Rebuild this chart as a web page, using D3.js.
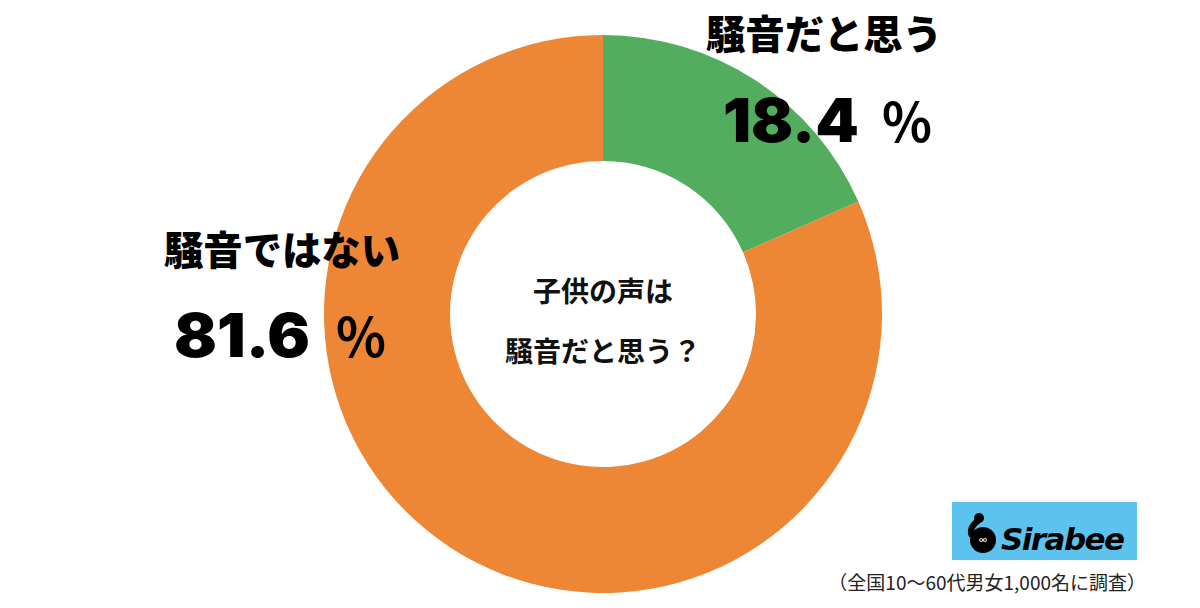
<!DOCTYPE html>
<html><head><meta charset="utf-8">
<script src="https://cdn.jsdelivr.net/npm/d3@7"></script>
<style>body{margin:0;background:#fff}svg{display:block}</style>
</head><body>
<script>
const categories = ["騒音だと思う", "騒音ではない"];
const values = [18.4, 81.6];
const colors = ["#52ad5e", "#ed8735"];
const valueLabels = ["18.4", "81.6"];
const centerTitle = ["子供の声は", "騒音だと思う？"];
const footnote = "（全国10〜60代男女1,000名に調査）";

const W = 1200, H = 608, cx = 603, cy = 314, R = 279, r = 153;
const svg = d3.select("body").append("svg").attr("width", W).attr("height", H);
const font = "'Noto Sans CJK JP', sans-serif";

const pie = d3.pie().sort(null).value(d => d)(values);
const arc = d3.arc().innerRadius(r).outerRadius(R);
svg.append("g").attr("transform", `translate(${cx},${cy})`)
  .selectAll("path").data(pie).join("path")
  .attr("d", arc).attr("fill", (d, i) => colors[i]);

// center title
svg.selectAll("text.center").data(centerTitle).join("text")
  .attr("class", "center")
  .attr("x", cx).attr("y", (d, i) => 302 + i * 60)
  .attr("text-anchor", "middle").attr("font-family", font)
  .attr("font-weight", 700).attr("font-size", 28).attr("fill", "#111")
  .text(d => d);

// labels
const labelPos = [
  {x: 824, y: 49, nx: 723, vy: 142, px: 882},
  {x: 282, y: 265, nx: 174, vy: 357, px: 336}
];
categories.forEach((c, i) => {
  const p = labelPos[i];
  svg.append("text").attr("x", p.x).attr("y", p.y)
    .attr("text-anchor", "middle").attr("font-family", font)
    .attr("font-weight", 900).attr("font-size", 40).attr("fill", "#000")
    .attr("textLength", 236).attr("lengthAdjust", "spacingAndGlyphs")
    .text(c);
  svg.append("text").attr("x", p.nx).attr("y", p.vy)
    .attr("font-family", "Inter, 'DejaVu Sans', sans-serif")
    .attr("font-weight", 900).attr("font-size", 61).attr("fill", "#000")
    .attr("textLength", 136).attr("lengthAdjust", "spacingAndGlyphs")
    .text(valueLabels[i]);
  svg.append("text").attr("x", p.px).attr("y", p.vy)
    .attr("font-family", font)
    .attr("font-weight", 700).attr("font-size", 54).attr("fill", "#000")
    .attr("textLength", 50).attr("lengthAdjust", "spacingAndGlyphs")
    .text("%");
});

// logo
const lg = svg.append("g");
lg.append("rect").attr("x", 952).attr("y", 502).attr("width", 185).attr("height", 58).attr("fill", "#5cc3ef");
lg.append("circle").attr("cx", 983).attr("cy", 540).attr("r", 13).attr("fill", "#000");
lg.append("circle").attr("cx", 979).attr("cy", 518).attr("r", 5).attr("fill", "#000");
lg.append("path").attr("d", "M979,520 Q968,528 972,536").attr("stroke", "#000").attr("stroke-width", 6).attr("fill", "none");
lg.append("text").attr("x", 983).attr("y", 543).attr("text-anchor", "middle")
  .attr("font-family", font).attr("font-size", 8).attr("font-weight", 700).attr("fill", "#fff").text("∞");
lg.append("text").attr("x", 1001).attr("y", 550)
  .attr("font-family", "'DejaVu Sans', sans-serif").attr("font-weight", 700).attr("font-style", "italic")
  .attr("font-size", 31).attr("fill", "#000").attr("textLength", 124).text("Sirabee");

svg.append("text").attr("x", 1146).attr("y", 590).attr("text-anchor", "end")
  .attr("font-family", font).attr("font-size", 19).attr("fill", "#222").text(footnote);
</script>
</body></html>
